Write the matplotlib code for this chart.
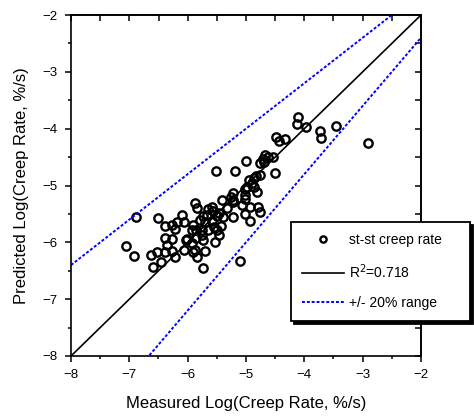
import matplotlib.pyplot as plt
import numpy as np

plt.rcParams["font.family"] = ["Liberation Sans", "DejaVu Sans"]

# measured vs predicted log creep rate (%/s)
measured = [
    -4.10, -4.12, -3.97, -3.73, -3.71, -3.46, -2.91, -4.49, -4.43, -4.33,
    -4.54, -4.50, -5.00, -4.67, -4.62, -4.70, -4.76, -4.69, -5.51, -5.19,
    -4.76, -4.82, -4.87, -4.94, -4.89, -4.99, -4.86, -5.02, -4.81, -5.23,
    -5.26, -5.22, -5.41, -4.93, -4.79, -4.76, -5.02, -5.23, -4.93, -5.02,
    -5.07, -5.87, -5.84, -5.59, -5.56, -5.67, -5.47, -5.40, -5.79, -5.70,
    -5.90, -5.93, -5.85, -5.76, -5.65, -5.50, -5.47, -5.73, -5.53, -6.02,
    -6.07, -5.87, -5.84, -5.70, -5.10, -5.73, -6.10, -6.18, -6.07, -6.27,
    -6.22, -6.89, -6.50, -6.39, -7.06, -6.92, -6.38, -6.27, -6.36, -6.01,
    -6.53, -6.62, -6.39, -6.27, -6.22, -6.45, -6.59, -5.90, -5.55, -5.42,
    -5.59, -5.76, -5.93, -5.85, -5.73, -5.50, -5.65, -5.33, -5.23, -5.02,
]
predicted = [
    -3.80, -3.92, -3.97, -4.04, -4.16, -3.96, -4.26, -4.14, -4.21, -4.19,
    -4.50, -4.78, -4.57, -4.46, -4.50, -4.54, -4.61, -4.58, -4.74, -4.74,
    -4.82, -4.83, -4.86, -4.90, -4.95, -5.03, -5.03, -5.07, -5.11, -5.14,
    -5.20, -5.26, -5.26, -5.37, -5.38, -5.47, -5.50, -5.56, -5.62, -5.17,
    -5.34, -5.31, -5.40, -5.37, -5.44, -5.52, -5.49, -5.55, -5.60, -5.65,
    -5.70, -5.78, -5.78, -5.78, -5.78, -5.78, -5.87, -5.96, -5.99, -5.96,
    -6.14, -6.14, -6.25, -6.15, -6.33, -6.46, -5.52, -5.65, -5.64, -5.70,
    -5.77, -5.56, -5.58, -5.71, -6.06, -6.24, -5.93, -5.95, -6.05, -5.95,
    -6.17, -6.22, -6.17, -6.15, -6.26, -6.34, -6.43, -6.17, -5.73, -5.71,
    -5.63, -5.87, -6.02, -5.93, -5.54, -5.54, -5.42, -5.40, -5.29, -5.24,
]
r_squared = 0.718
range_frac = 0.2
axis_range = [-8, -2]

fig = plt.figure(figsize=(4.74, 4.17), dpi=100)
ax = fig.add_axes([71 / 474, 61 / 417, 350 / 474, 341 / 417])

ax.plot(measured, predicted, linestyle="none", marker="o", markersize=6,
        markerfacecolor="none", markeredgecolor="black", markeredgewidth=1.7,
        label="st-st creep rate")

line_x = np.linspace(axis_range[0], axis_range[1], 50)
ax.plot(line_x, line_x, color="black", linewidth=1.2,
        label="R$^2$=%.3f" % r_squared)
ax.plot(line_x, (1 - range_frac) * line_x, color="#0000ff", linewidth=1.4,
        linestyle=(0, (1.5, 1.0)), label="+/- 20% range")
ax.plot(line_x, (1 + range_frac) * line_x, color="#0000ff", linewidth=1.4,
        linestyle=(0, (1.5, 1.0)))

ax.set_xlim(axis_range)
ax.set_ylim(axis_range)
ax.set_xticks(np.arange(-8, -1, 1))
ax.set_yticks(np.arange(-8, -1, 1))
ax.set_xticks(np.arange(-8, -1.9, 0.5), minor=True)
ax.set_yticks(np.arange(-8, -1.9, 0.5), minor=True)
ax.tick_params(which="both", direction="out", top=False, right=False,
               labelsize=9.5, width=1.1, colors="black")
ax.tick_params(which="major", length=4.5, pad=5)
ax.tick_params(which="minor", length=2.5)

# inward ticks on top and right like the original plot
sec_x = ax.secondary_xaxis("top")
sec_x.set_xticks(np.arange(-8, -1.9, 0.5))
sec_x.tick_params(direction="in", length=4, width=1.1, labeltop=False)
sec_y = ax.secondary_yaxis("right")
sec_y.set_yticks(np.arange(-8, -1.9, 0.5))
sec_y.tick_params(direction="in", length=4, width=1.1, labelright=False)

for spine in ax.spines.values():
    spine.set_linewidth(1.2)
for sec in (sec_x, sec_y):
    for spine in sec.spines.values():
        spine.set_linewidth(1.2)

ax.set_xlabel("Measured Log(Creep Rate, %/s)", fontsize=12, labelpad=11)
ax.set_ylabel("Predicted Log(Creep Rate, %/s)", fontsize=12, labelpad=10)

leg = fig.legend(loc="upper left",
                 bbox_to_anchor=(291 / 474, 96 / 417, 179 / 474, 99 / 417),
                 mode="expand", fontsize=10, labelspacing=1.1,
                 handlelength=3.0, handletextpad=0.4, borderpad=0.8,
                 borderaxespad=0, markerscale=0.75, fancybox=False,
                 framealpha=1, shadow={"color": "black", "alpha": 1})
leg.get_frame().set_edgecolor("black")
leg.get_frame().set_linewidth(1.3)

fig.savefig("out.png", dpi=100)
